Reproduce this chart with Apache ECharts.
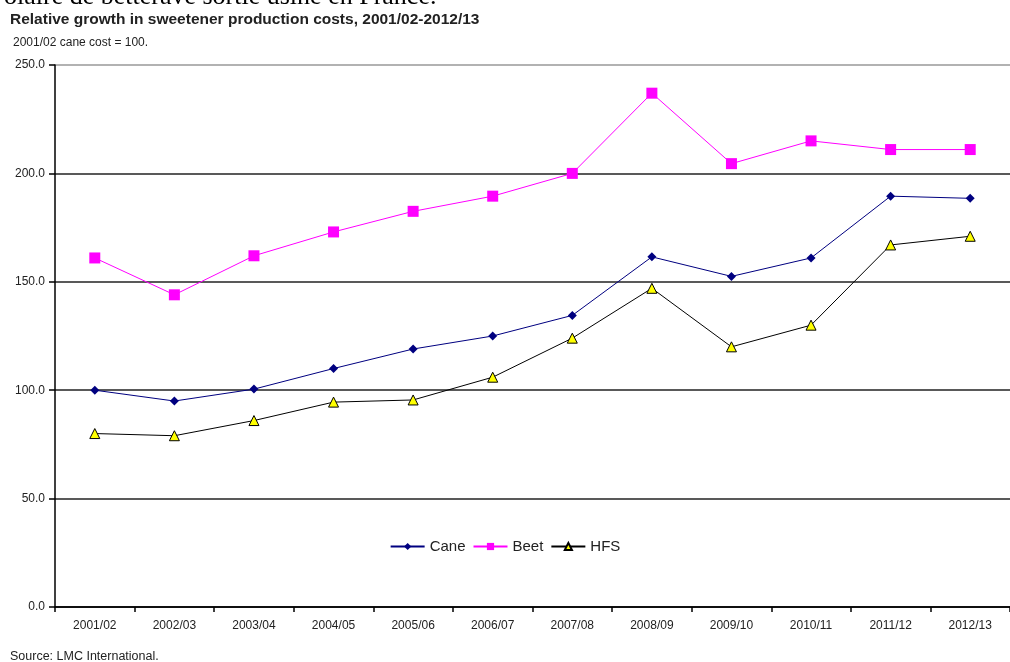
<!DOCTYPE html>
<html><head><meta charset="utf-8">
<script src="https://cdn.jsdelivr.net/npm/echarts@6/dist/echarts.min.js"></script>
<style>html,body{margin:0;padding:0;background:#fff}#c{width:1010px;height:662px}</style>
</head><body><div id="c"></div>
<script>
const categories = ['2001/02','2002/03','2003/04','2004/05','2005/06','2006/07','2007/08','2008/09','2009/10','2010/11','2011/12','2012/13'];
const cane = [100, 95, 100.5, 110, 119, 125, 134.5, 161.5, 152.5, 161, 189.5, 188.5];
const beet = [161, 144, 162, 173, 182.5, 189.5, 200, 237, 204.5, 215, 211, 211];
const hfs  = [80, 79, 86, 94.5, 95.5, 106, 124, 147, 120, 130, 167, 171];
const yTicks = [0, 50, 100, 150, 200, 250];

const chart = echarts.init(document.getElementById('c'), null, {renderer:'canvas'});
const ff = 'Liberation Sans, Arial, sans-serif';
chart.setOption({
  animation:false,
  backgroundColor:'#fff',
  graphic:[
    {type:'text', left:4, top:-16, style:{text:'olaire de betterave sortie usine en France.', font:'26px "Liberation Serif", serif', fill:'#000'}},
    {type:'text', left:10, top:12, style:{text:'Relative growth in sweetener production costs, 2001/02-2012/13', font:'bold 15.5px '+ff, fill:'#222'}},
    {type:'text', left:13, top:37, style:{text:'2001/02 cane cost = 100.', font:'12px '+ff, fill:'#222'}},
    {type:'text', left:10, top:650, style:{text:'Source: LMC International.', font:'12.5px '+ff, fill:'#222'}}
  ],
  grid:{left:55, right:-12, top:65, bottom:55, containLabel:false},
  legend:{
    data:['Cane','Beet','HFS'], left:'center', top:539, itemGap:7, itemWidth:34, itemHeight:9,
    textStyle:{fontFamily:ff, fontSize:15, color:'#222'}, padding:0
  },
  xAxis:{
    type:'category', data:categories, boundaryGap:true,
    axisLine:{lineStyle:{color:'#000', width:1.5}},
    axisTick:{show:true, length:5, lineStyle:{color:'#000', width:1.5}, alignWithLabel:false},
    axisLabel:{fontFamily:ff, fontSize:12, color:'#222', margin:13}
  },
  yAxis:{
    type:'value', min:0, max:250, interval:50,
    axisLine:{show:true, lineStyle:{color:'#000', width:1.5}},
    axisTick:{show:true, length:6, lineStyle:{color:'#000', width:1.5}},
    axisLabel:{fontFamily:ff, fontSize:12, color:'#222', margin:10, formatter:v=>v.toFixed(1)},
    splitLine:{show:true, lineStyle:{color:['#000','#222','#222','#222','#222','#999'], width:1.5}}
  },
  series:[
    {name:'Cane', type:'line', data:cane, symbol:'diamond', symbolSize:9,
     lineStyle:{color:'#000080', width:1}, itemStyle:{color:'#000080'}},
    {name:'Beet', type:'line', data:beet, symbol:'rect', symbolSize:11,
     lineStyle:{color:'#ff00ff', width:1}, itemStyle:{color:'#ff00ff'}},
    {name:'HFS', type:'line', data:hfs, symbol:'triangle', symbolSize:10,
     lineStyle:{color:'#000', width:1}, itemStyle:{color:'#ffff00', borderColor:'#000', borderWidth:1}}
  ]
});
</script></body></html>
